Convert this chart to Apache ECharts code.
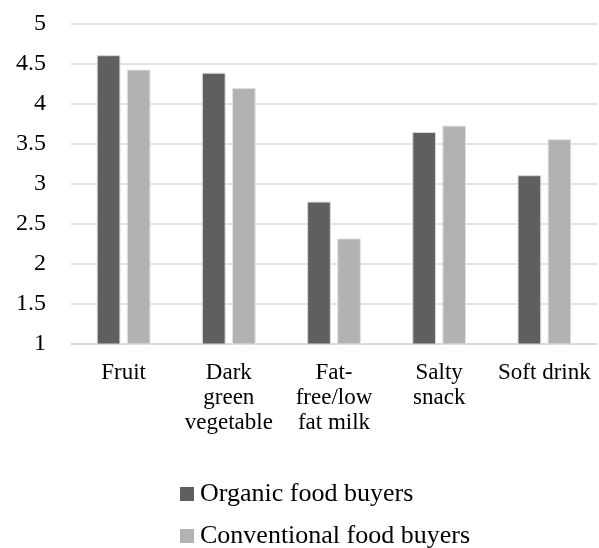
<!DOCTYPE html>
<html>
<head>
<meta charset="utf-8">
<script src="https://cdn.jsdelivr.net/npm/echarts@6/dist/echarts.min.js"></script>
<style>
html,body{margin:0;padding:0;background:#fff;}
#chart{width:599px;height:548px;}
</style>
</head>
<body>
<div id="chart"></div>
<script>
var categories = ["Fruit", "Dark\ngreen\nvegetable", "Fat-\nfree/low\nfat milk", "Salty\nsnack", "Soft drink"];
var organic = [4.61, 4.39, 2.78, 3.65, 3.11];
var conventional = [4.43, 4.20, 2.32, 3.73, 3.56];
var seriesNames = ["Organic food buyers", "Conventional food buyers"];
var yTicks = [1, 1.5, 2, 2.5, 3, 3.5, 4, 4.5, 5];

var font = "'Liberation Serif', 'Times New Roman', serif";
function makeLegend(name, top) {
  return {
    orient: 'vertical',
    left: 180,
    top: top,
    padding: 0,
    itemWidth: 14,
    itemHeight: 14,
    icon: 'rect',
    itemStyle: {borderWidth: 0},
    textStyle: {fontFamily: font, fontSize: 26, color: '#000', lineHeight: 28, padding: [0, 0, 0, 1]},
    data: [name]
  };
}
var chart = echarts.init(document.getElementById('chart'), null, {renderer: 'canvas'});
chart.setOption({
  animation: false,
  backgroundColor: '#ffffff',
  grid: {left: 71, right: 2, top: 24, bottom: 204, containLabel: false},
  legend: [makeLegend(seriesNames[0], 480), makeLegend(seriesNames[1], 522)],
  xAxis: {
    type: 'category',
    data: categories,
    axisTick: {show: false},
    axisLine: {lineStyle: {color: '#d9d9d9', width: 1.5}},
    axisLabel: {fontFamily: font, fontSize: 23, color: '#000', lineHeight: 25, margin: 16, interval: 0, verticalAlign: 'top'}
  },
  yAxis: {
    type: 'value',
    min: 1,
    max: 5,
    interval: 0.5,
    axisLine: {show: false},
    axisTick: {show: false},
    splitLine: {lineStyle: {color: '#d9d9d9', width: 1.5}},
    axisLabel: {fontFamily: font, fontSize: 24, color: '#000', margin: 25,
      formatter: function (v) { return yTicks.indexOf(v) >= 0 ? String(v) : ''; }}
  },
  series: [
    {name: seriesNames[0], type: 'bar', data: organic, barWidth: '22.5%', barGap: '27%',
     itemStyle: {color: '#5f5f5f', borderColor: '#d6d6d6', borderWidth: 1}},
    {name: seriesNames[1], type: 'bar', data: conventional, barWidth: '22.5%', barGap: '27%',
     itemStyle: {color: '#b2b2b2', borderColor: '#e2e2e2', borderWidth: 1}}
  ]
});
</script>
</body>
</html>
